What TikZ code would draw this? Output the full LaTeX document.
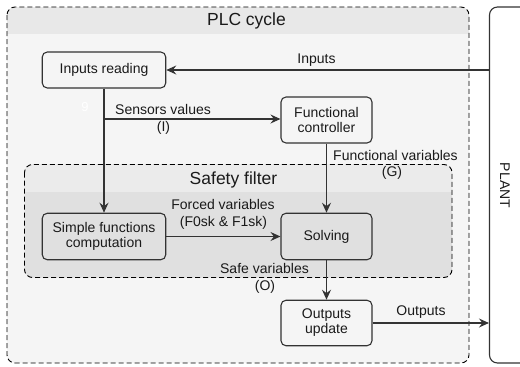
\documentclass[tikz,border=0pt]{standalone}
\usepackage{fontspec}
\setmainfont{Liberation Sans}
\usetikzlibrary{arrows.meta}
\definecolor{outerbody}{HTML}{F5F5F5}
\definecolor{outerhdr}{HTML}{E8E8E8}
\definecolor{sfhdr}{HTML}{EBEBEB}
\definecolor{sfbody}{HTML}{E0E0E0}
\definecolor{linec}{HTML}{333333}
\definecolor{txtc}{HTML}{1A1A1A}
\tikzset{
  blk/.style={draw=linec, line width=1.1pt, rounded corners=5pt, align=center,
    inner sep=0pt, text=txtc, font=\fontsize{14}{16}\selectfont},
  arr/.style={draw=linec, line width=1.1pt, -{Stealth[length=10pt,width=9pt,inset=3.5pt]}},
  lnk/.style={draw=linec, line width=1.1pt},
  lbl/.style={text=txtc, font=\fontsize{14}{16}\selectfont, inner sep=0pt, align=center},
  ttl/.style={text=txtc, font=\fontsize{17.5}{20}\selectfont, inner sep=0pt},
  frame/.style={draw=black, line width=0.9pt, dash pattern=on 5pt off 3pt, rounded corners=8pt}
}
\begin{document}
\begin{tikzpicture}[x=1pt,y=-1pt]
\useasboundingbox (0,0) rectangle (520,367);
% PLC cycle container
\fill[outerbody, rounded corners=8pt] (7,7) rectangle (469,363);
\begin{scope}
  \clip (7,7) rectangle (469,33.5);
  \fill[outerhdr, rounded corners=8pt] (7,7) rectangle (469,363);
\end{scope}
\draw[frame] (7,7) rectangle (469,363);
\node[ttl] (plct) at (246.5,21) {PLC cycle};
% Safety filter container
\fill[sfbody, rounded corners=8pt] (24.5,164.5) rectangle (452,277.5);
\begin{scope}
  \clip (24.5,164.5) rectangle (452,191.5);
  \fill[sfhdr, rounded corners=8pt] (24.5,164.5) rectangle (452,277.5);
\end{scope}
\draw[frame] (24.5,164.5) rectangle (452,277.5);
\node[ttl] (sft) at (233.5,180) {Safety filter};
% Plant
\node[draw=linec, line width=1.1pt, rounded corners=8pt, minimum width=60pt, minimum height=356pt, inner sep=0pt] (plant) at (519.5,185) {};
\node[lbl, rotate=-90] (plantl) at (505,185.5) {PLANT};
% Blocks
\node[blk, minimum width=123.5pt, minimum height=36pt] (inr) at (104,70) {Inputs reading};
\node[blk, minimum width=91pt, minimum height=46pt] (fc) at (326.5,120) {Functional\\[-1pt]controller};
\node[blk, minimum width=123.5pt, minimum height=46.5pt] (sfc) at (104,236.5) {Simple functions\\[-1pt]computation};
\node[blk, minimum width=91pt, minimum height=46.5pt] (sol) at (326.5,236.5) {Solving};
\node[blk, minimum width=91pt, minimum height=45.5pt] (ou) at (326.5,323) {Outputs\\[-1pt]update};
% Connectors
\coordinate (inpt) at (489.5,70);
\draw[arr] (inpt) -- (inr.east);
\draw[arr] (inr.south) -- (sfc.north);
\coordinate (br) at (104,119);
\draw[arr] (br) -- (fc.west |- br);
\draw[arr] (fc.south) -- (sol.north);
\draw[arr] (sfc.east) -- (sol.west);
\draw[arr] (sol.south) -- (ou.north);
\draw[arr] (ou.east) -- (plant.west |- ou.east);
% Labels
\node[lbl] (linp) at (316.5,60) {Inputs};
\node[lbl, anchor=west] (lsv) at (115,109) {Sensors values};
\node[lbl] (lsvi) at (163.5,128) {(I)};
\node[text=white, font=\fontsize{13}{15}\selectfont, inner sep=0pt] (nine) at (85,107.5) {9};
\node[lbl] (lfv) at (395.5,155) {Functional variables};
\node[lbl] (lfvg) at (392,173) {(G)};
\node[lbl] (lfo) at (223,204) {Forced variables};
\node[lbl] (lfof) at (223.5,222.5) {(F0sk \& F1sk)};
\node[lbl] (lsa) at (264.5,268) {Safe variables};
\node[lbl] (lsao) at (265,287) {(O)};
\node[lbl] (lout) at (421,312) {Outputs};
\end{tikzpicture}
\end{document}
